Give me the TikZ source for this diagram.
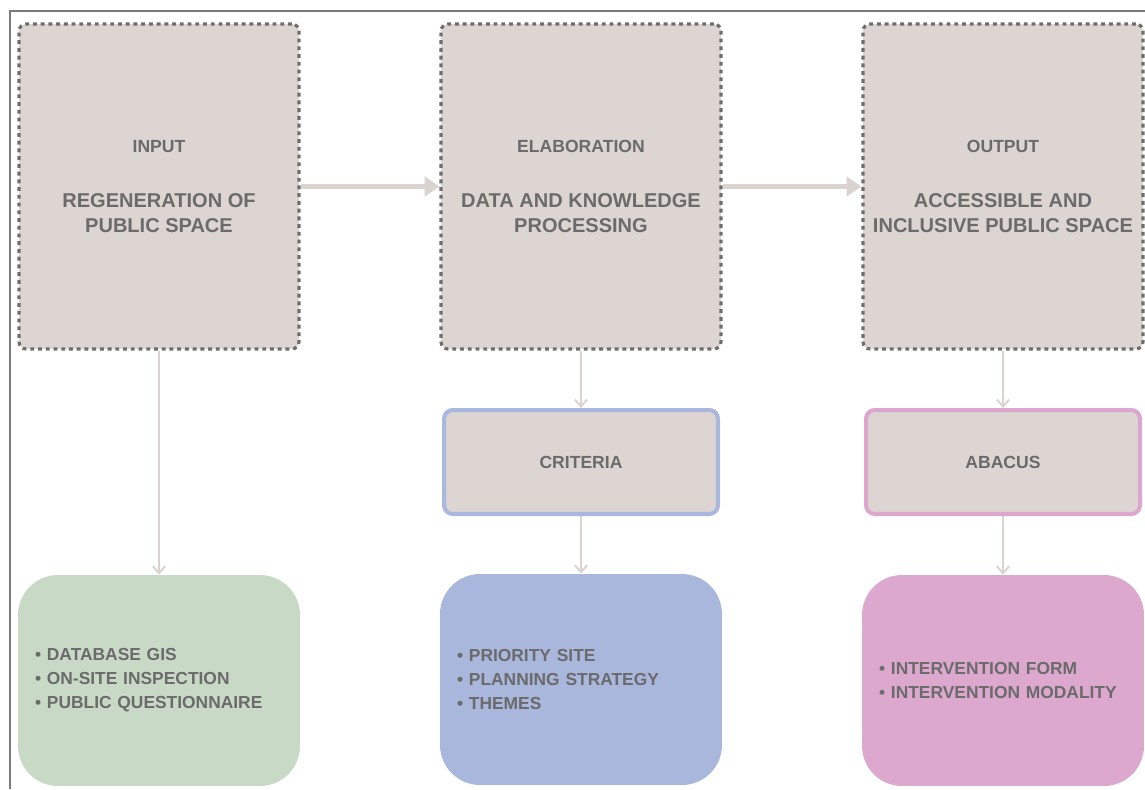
\documentclass[tikz,border=0pt]{standalone}
\usepackage{fontspec}
\setmainfont{Liberation Sans}
\usepackage{xcolor}
\usetikzlibrary{arrows.meta, positioning}
\definecolor{framegray}{HTML}{7A7A7A}
\definecolor{boxgray}{HTML}{DCD5D1}
\definecolor{dotgray}{HTML}{6E6E6E}
\definecolor{textgray}{HTML}{6B6B6B}
\definecolor{arrowgray}{HTML}{DAD3CF}
\definecolor{toolgreen}{HTML}{C8DAC6}
\definecolor{critblue}{HTML}{AAB7DC}
\definecolor{critedge}{HTML}{AAB8E0}
\definecolor{abacpink}{HTML}{DDA8CD}
\definecolor{abacedge}{HTML}{DDA6CF}

\begin{document}
\begin{tikzpicture}[
    x=0.02cm, y=-0.02cm,
    phase/.style={draw=dotgray, fill=boxgray, line width=1.8pt, dash pattern=on 2.2pt off 2.2pt, rounded corners=4pt, minimum width=5.6cm, minimum height=6.5cm, text=textgray, font=\fontsize{11.4}{14.2}\selectfont\bfseries, align=center},
    gate/.style={draw, fill=boxgray, line width=2.3pt, rounded corners=5pt, minimum width=5.48cm, minimum height=2.08cm, text=textgray, font=\fontsize{10}{12}\selectfont\bfseries},
    listbox/.style={rounded corners=0.8cm, minimum width=5.64cm, minimum height=4.22cm, text width=4.96cm, inner xsep=0.34cm, align=left, text=textgray, font=\fontsize{9.9}{13.6}\selectfont\bfseries},
    flow/.style={-{Triangle[length=8.5pt, width=11pt]}, arrowgray, line width=2.8pt},
    down/.style={-{Straight Barb[length=4pt, width=7pt]}, arrowgray, line width=1.1pt},
]
    \useasboundingbox (0,0) rectangle (1145,789);
    % Frame
    \draw[framegray, line width=1.2pt] (10,789) -- (10,11) -- (1145,11);

    % Top: phases
    \node[phase] (inp) at (159,186.5) {{\fontsize{10}{12}\selectfont INPUT}\\[17pt]REGENERATION OF\\PUBLIC SPACE};
    \node[phase] (elab) at (581,186.5) {{\fontsize{10}{12}\selectfont ELABORATION}\\[17pt]DATA AND KNOWLEDGE\\PROCESSING};
    \node[phase] (outp) at (1003,186.5) {{\fontsize{10}{12}\selectfont OUTPUT}\\[17pt]ACCESSIBLE AND\\INCLUSIVE PUBLIC SPACE};

    % Middle: criteria and abacus
    \node[gate, draw=critedge] (crit) at (581,462) {CRITERIA};
    \node[gate, draw=abacedge] (abac) at (1003,462) {ABACUS};

    % Bottom: lists
    \node[listbox, fill=toolgreen] (tools) at (159,680.5) {\textbullet\ DATABASE GIS\\\textbullet\ ON-SITE INSPECTION\\\textbullet\ PUBLIC QUESTIONNAIRE};
    \node[listbox, fill=critblue] (themes) at (581,679.5) {\textbullet\ PRIORITY SITE\\\textbullet\ PLANNING STRATEGY\\\textbullet\ THEMES};
    \node[listbox, fill=abacpink] (forms) at (1003,680.5) {\textbullet\ INTERVENTION FORM\\\textbullet\ INTERVENTION MODALITY};

    % Connections
    \draw[flow] (inp) -- (elab);
    \draw[flow] (elab) -- (outp);
    \draw[down] (inp) -- (tools);
    \foreach \a/\b in {elab/crit, crit/themes, outp/abac, abac/forms} {
        \draw[down] (\a) -- (\b);
    }
\end{tikzpicture}
\end{document}
